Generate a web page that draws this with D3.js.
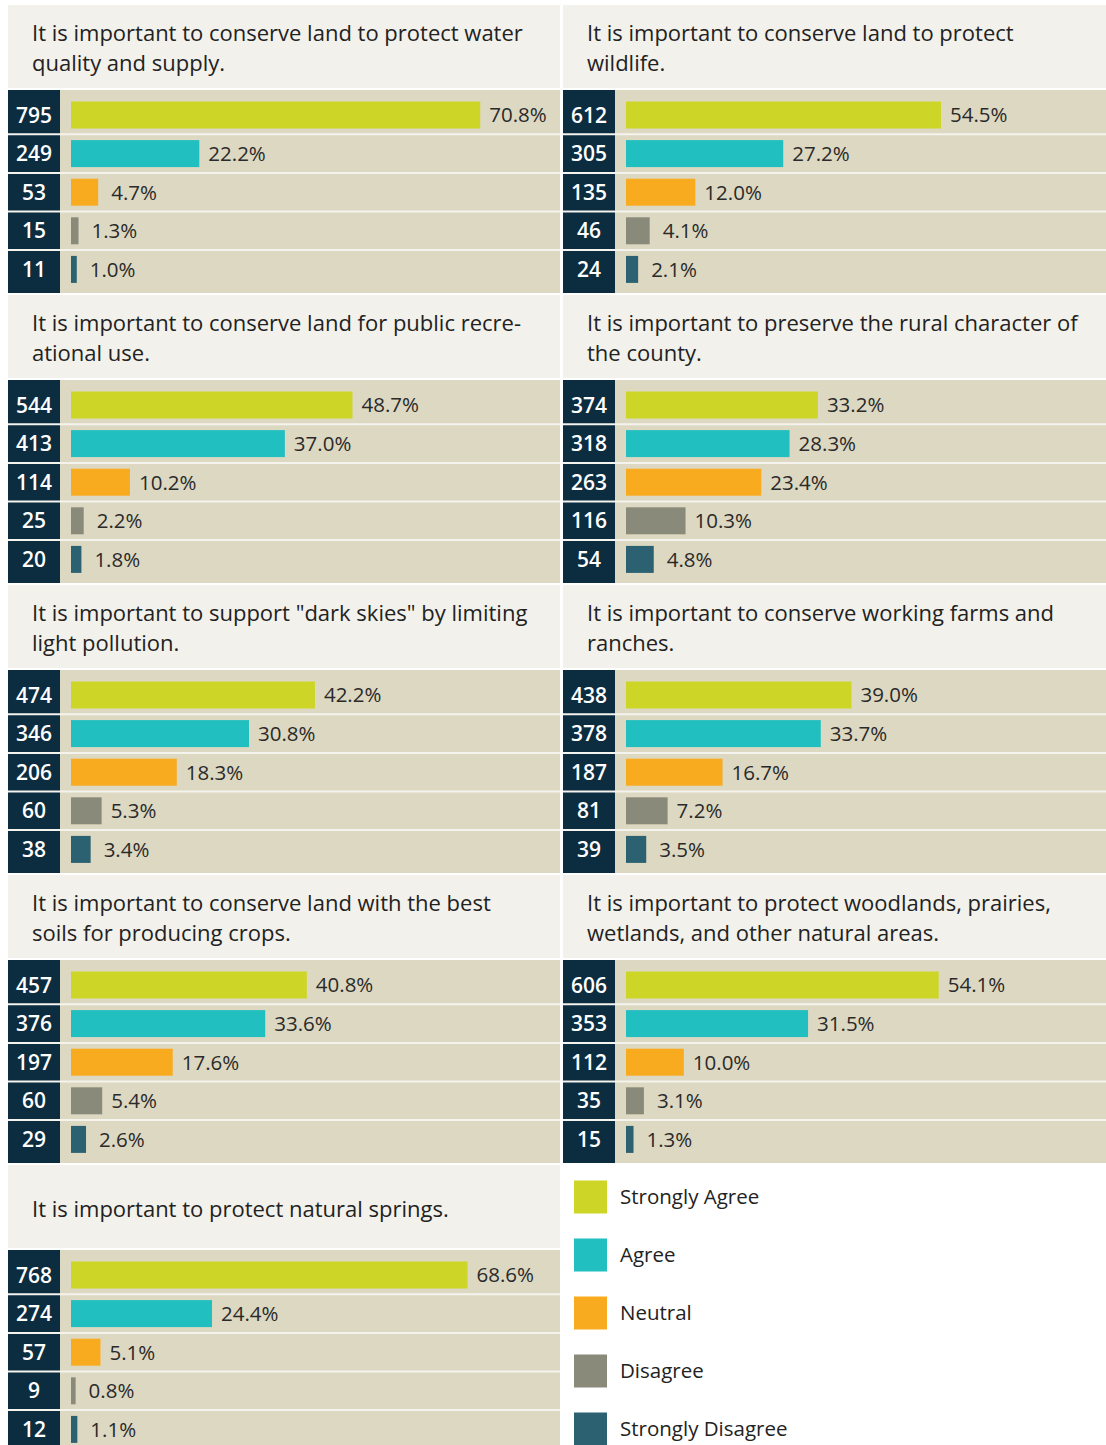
<!DOCTYPE html>
<html>
<head>
<meta charset="utf-8">
<script src="https://cdn.jsdelivr.net/npm/d3@7"></script>
<style>
  html, body { margin: 0; padding: 0; background: #ffffff; }
  svg { display: block; }
</style>
</head>
<body>
<svg id="chart" width="1106" height="1445"></svg>
<script>
// ---------- DATA ----------
const categories = ["Strongly Agree", "Agree", "Neutral", "Disagree", "Strongly Disagree"];
const titles = [
  "It is important to conserve land to protect water\nquality and supply.",
  "It is important to conserve land to protect\nwildlife.",
  "It is important to conserve land for public recre-\national use.",
  "It is important to preserve the rural character of\nthe county.",
  "It is important to support \"dark skies\" by limiting\nlight pollution.",
  "It is important to conserve working farms and\nranches.",
  "It is important to conserve land with the best\nsoils for producing crops.",
  "It is important to protect woodlands, prairies,\nwetlands, and other natural areas.",
  "It is important to protect natural springs."
];
const counts = [
  [795, 249, 53, 15, 11],
  [612, 305, 135, 46, 24],
  [544, 413, 114, 25, 20],
  [374, 318, 263, 116, 54],
  [474, 346, 206, 60, 38],
  [438, 378, 187, 81, 39],
  [457, 376, 197, 60, 29],
  [606, 353, 112, 35, 15],
  [768, 274, 57, 9, 12]
];
const percents = [
  [70.8, 22.2, 4.7, 1.3, 1.0],
  [54.5, 27.2, 12.0, 4.1, 2.1],
  [48.7, 37.0, 10.2, 2.2, 1.8],
  [33.2, 28.3, 23.4, 10.3, 4.8],
  [42.2, 30.8, 18.3, 5.3, 3.4],
  [39.0, 33.7, 16.7, 7.2, 3.5],
  [40.8, 33.6, 17.6, 5.4, 2.6],
  [54.1, 31.5, 10.0, 3.1, 1.3],
  [68.6, 24.4, 5.1, 0.8, 1.1]
];
const colors = ["#cdd627", "#22bfc0", "#f8ab1f", "#8a8a7b", "#2b6170"];

// ---------- STYLE ----------
const FONT = "'Open Sans', 'Noto Sans', sans-serif";
const NAVY = "#0c2c3f";
const BAR_BG = "#ddd8c1";
const TITLE_BG = "#f2f1eb";

const svg = d3.select("#chart");
const color = d3.scaleOrdinal().domain(categories).range(colors);

const panelStep = 290;
const colX = [[8, 560], [563, 1106]];

titles.forEach((title, i) => {
  const col = i % 2, row = Math.floor(i / 2);
  const [x0, x1] = colX[col];
  const y0 = 5 + row * panelStep;
  const g = svg.append("g").attr("class", "panel");

  // title area
  g.append("rect").attr("x", x0).attr("y", y0).attr("width", x1 - x0).attr("height", 83)
    .attr("fill", TITLE_BG);
  const lines = title.split("\n");
  const t = g.append("text").attr("font-family", FONT).attr("font-size", 22)
    .attr("fill", "#222").attr("x", x0 + 24);
  if (lines.length === 1) {
    t.append("tspan").attr("x", x0 + 24).attr("y", y0 + 52).text(lines[0]);
  } else {
    lines.forEach((ln, k) => {
      t.append("tspan").attr("x", x0 + 24).attr("y", y0 + 36 + k * 30).text(ln);
    });
  }

  // bar block
  const blockTop = y0 + 85, blockBottom = y0 + 288;
  g.append("rect").attr("x", x0).attr("y", blockTop).attr("width", x1 - x0)
    .attr("height", blockBottom - blockTop).attr("fill", BAR_BG);
  g.append("rect").attr("x", x0).attr("y", blockTop).attr("width", 52)
    .attr("height", blockBottom - blockTop).attr("fill", NAVY);

  const y = d3.scaleBand().domain(categories).range([y0 + 90.7, y0 + 283.7]);
  const x = d3.scaleLinear().domain([0, 100]).range([x0 + 63, x0 + 63 + 578]);

  // separators
  g.selectAll("line.sep").data(categories.slice(1)).join("line")
    .attr("x1", x0).attr("x2", x1)
    .attr("y1", d => y(d)).attr("y2", d => y(d))
    .attr("stroke", "#f4f3ee").attr("stroke-width", 2);

  const data = categories.map((c, k) => ({ c, n: counts[i][k], p: percents[i][k] }));
  const barH = 27;

  g.selectAll("rect.bar").data(data).join("rect")
    .attr("x", x(0))
    .attr("y", d => y(d.c) + y.bandwidth() / 2 - barH / 2)
    .attr("width", d => x(d.p) - x(0))
    .attr("height", barH)
    .attr("fill", d => color(d.c));

  g.selectAll("text.pct").data(data).join("text")
    .attr("x", d => x(d.p) + (d.p < 5 ? 13 : 9))
    .attr("y", d => y(d.c) + y.bandwidth() / 2)
    .attr("dy", "0.36em")
    .attr("font-family", FONT).attr("font-size", 20.5).attr("fill", "#2a2a2a")
    .text(d => d.p.toFixed(1) + "%");

  g.selectAll("text.cnt").data(data).join("text")
    .attr("x", x0 + 26)
    .attr("y", d => y(d.c) + y.bandwidth() / 2)
    .attr("dy", "0.36em")
    .attr("text-anchor", "middle")
    .attr("font-family", FONT).attr("font-size", 21).attr("font-weight", 600)
    .attr("fill", "#ffffff")
    .text(d => d.n);
});

// ---------- LEGEND ----------
const legend = svg.append("g").attr("class", "legend");
const ly = d3.scalePoint().domain(categories).range([1197, 1429]);
legend.selectAll("rect").data(categories).join("rect")
  .attr("x", 574).attr("y", d => ly(d) - 16.5).attr("width", 33).attr("height", 33)
  .attr("fill", d => color(d));
legend.selectAll("text").data(categories).join("text")
  .attr("x", 620).attr("y", d => ly(d)).attr("dy", "0.36em")
  .attr("font-family", FONT).attr("font-size", 20.5).attr("fill", "#222")
  .text(d => d);
</script>
</body>
</html>
